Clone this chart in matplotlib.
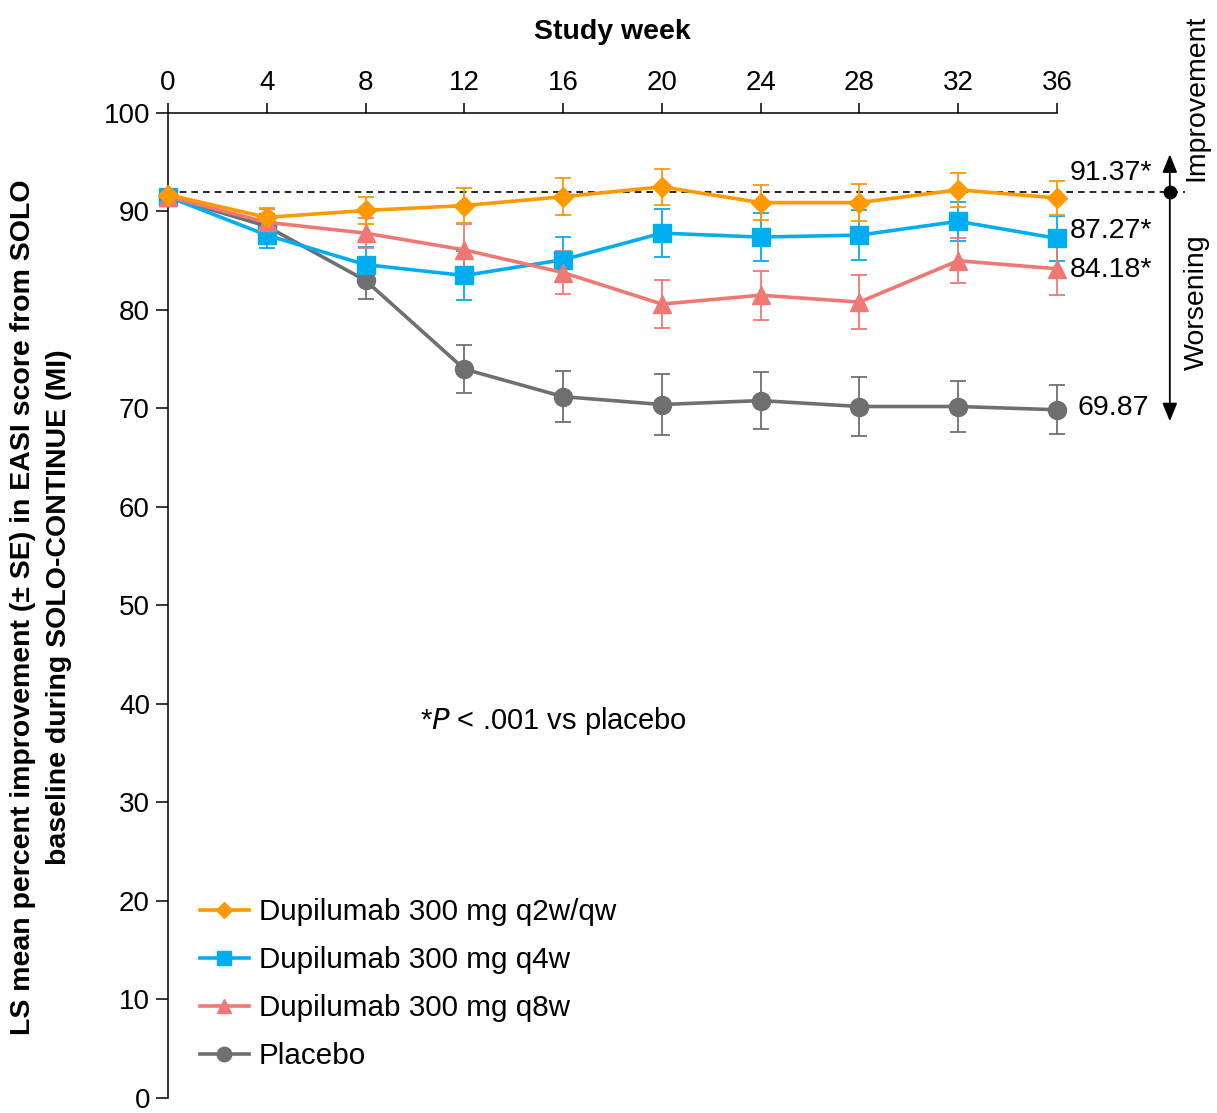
import numpy as np
import matplotlib
matplotlib.use('Agg')
import matplotlib.pyplot as plt

plt.rcParams['font.family'] = ['Liberation Sans', 'DejaVu Sans']

# Study weeks
weeks = [0, 4, 8, 12, 16, 20, 24, 28, 32, 36]

# LS mean percent improvement and SE
q2w_mean = [91.7, 89.4, 90.1, 90.6, 91.5, 92.5, 90.9, 90.9, 92.2, 91.37]
q2w_se = [0.0, 1.0, 1.4, 1.8, 1.85, 1.8, 1.8, 1.9, 1.7, 1.7]

q4w_mean = [91.5, 87.6, 84.6, 83.5, 85.1, 87.8, 87.4, 87.6, 89.0, 87.27]
q4w_se = [0.0, 1.3, 1.8, 2.5, 2.3, 2.4, 2.4, 2.5, 2.0, 2.3]

q8w_mean = [91.5, 88.9, 87.8, 86.1, 83.8, 80.6, 81.5, 80.8, 85.0, 84.18]
q8w_se = [0.0, 1.3, 1.5, 2.6, 2.2, 2.4, 2.5, 2.7, 2.3, 2.7]

pbo_mean = [91.5, 88.5, 83.0, 74.0, 71.2, 70.4, 70.8, 70.2, 70.2, 69.87]
pbo_se = [0.0, 1.2, 1.9, 2.4, 2.6, 3.1, 2.9, 3.0, 2.6, 2.5]

baseline = 91.95
end_labels = ['91.37*', '87.27*', '84.18*', '69.87']
end_label_y = [93.9, 88.0, 84.1, 70.0]

fig = plt.figure(figsize=(12.17, 11.13), dpi=100)
ax = fig.add_axes([0.138, 0.0135, 0.7305, 0.885])

series = [
    ('Placebo', pbo_mean, pbo_se, '#6f6f6f', 'o', 13),
    ('Dupilumab 300 mg q4w', q4w_mean, q4w_se, '#00aeef', 's', 13),
    ('Dupilumab 300 mg q8w', q8w_mean, q8w_se, '#f07874', '^', 13),
    ('Dupilumab 300 mg q2w/qw', q2w_mean, q2w_se, '#ff9900', 'D', 10),
]

handles = {}
for label, mean, se, color, marker, ms in series:
    se = np.array(se)
    ax.errorbar(weeks, mean, yerr=se, fmt='none', ecolor=color, elinewidth=1.3,
                capsize=6, capthick=1.3, clip_on=False, zorder=2)
    line, = ax.plot(weeks, mean, color=color, marker=marker, markersize=ms,
                    linewidth=2.6, label=label, clip_on=False, zorder=3)
    handles[label] = line

# dashed baseline reference line
ax.plot([0, 41.2], [baseline, baseline], color='black', linestyle=(0, (4, 3)),
        linewidth=1.2, clip_on=False, zorder=1)

# end of study values
for txt, yv in zip(end_labels, end_label_y):
    xpos = 36.85 if '*' not in txt else 36.5
    ax.text(xpos, yv, txt, fontsize=20.5, va='center', ha='left')

# improvement / worsening arrows
ax.plot([40.57], [baseline], 'o', color='black', markersize=9, clip_on=False)
arrow_style = '-|>,head_length=1.1,head_width=0.45'
ax.annotate('', xy=(40.57, 95.8), xytext=(40.57, baseline),
            arrowprops=dict(arrowstyle=arrow_style, color='black', lw=1.3,
                            shrinkA=0, shrinkB=0), annotation_clip=False)
ax.annotate('', xy=(40.57, 68.7), xytext=(40.57, baseline),
            arrowprops=dict(arrowstyle=arrow_style, color='black', lw=1.3,
                            shrinkA=0, shrinkB=0), annotation_clip=False)
ax.text(41.65, 101.5, 'Improvement', rotation=90, fontsize=20.5, ha='center', va='center')
ax.text(41.65, 80.8, 'Worsening', rotation=90, fontsize=20.5, ha='center', va='center')

ax.text(15.6, 38.3, r'*$\it{P}$ < .001 vs placebo', fontsize=21, ha='center', va='center')

# axes styling
ax.set_xlim(0, 36)
ax.set_ylim(0, 100)
ax.set_xticks(weeks)
ax.set_yticks(np.arange(0, 101, 10))
ax.xaxis.tick_top()
ax.spines['right'].set_visible(False)
ax.spines['bottom'].set_visible(False)
ax.spines['left'].set_linewidth(1.1)
ax.spines['top'].set_linewidth(1.1)
ax.tick_params(axis='x', direction='out', length=7, width=1.1, labelsize=20, pad=5)
ax.tick_params(axis='y', direction='out', length=9, width=1.1, labelsize=20, pad=4)

fig.text(612 / 1217, 1 - 32 / 1113, 'Study week', fontsize=20.5, fontweight='bold',
         ha='center', va='center')
fig.text(41 / 1217, 1 - 607 / 1113,
         'LS mean percent improvement (\u00b1 SE) in EASI score from SOLO\nbaseline during SOLO-CONTINUE (MI)',
         rotation=90, fontsize=20.5, fontweight='bold', ha='center', va='center',
         multialignment='center', linespacing=1.5)

order = ['Dupilumab 300 mg q2w/qw', 'Dupilumab 300 mg q4w',
         'Dupilumab 300 mg q8w', 'Placebo']
ax.legend([handles[k] for k in order], order, loc='upper left',
          bbox_to_anchor=(0.036, 0.203), frameon=False, fontsize=21.3,
          handlelength=1.65, handletextpad=0.35, labelspacing=0.68,
          borderaxespad=0, borderpad=0, markerscale=0.8)

plt.savefig('out.png', dpi=100)
